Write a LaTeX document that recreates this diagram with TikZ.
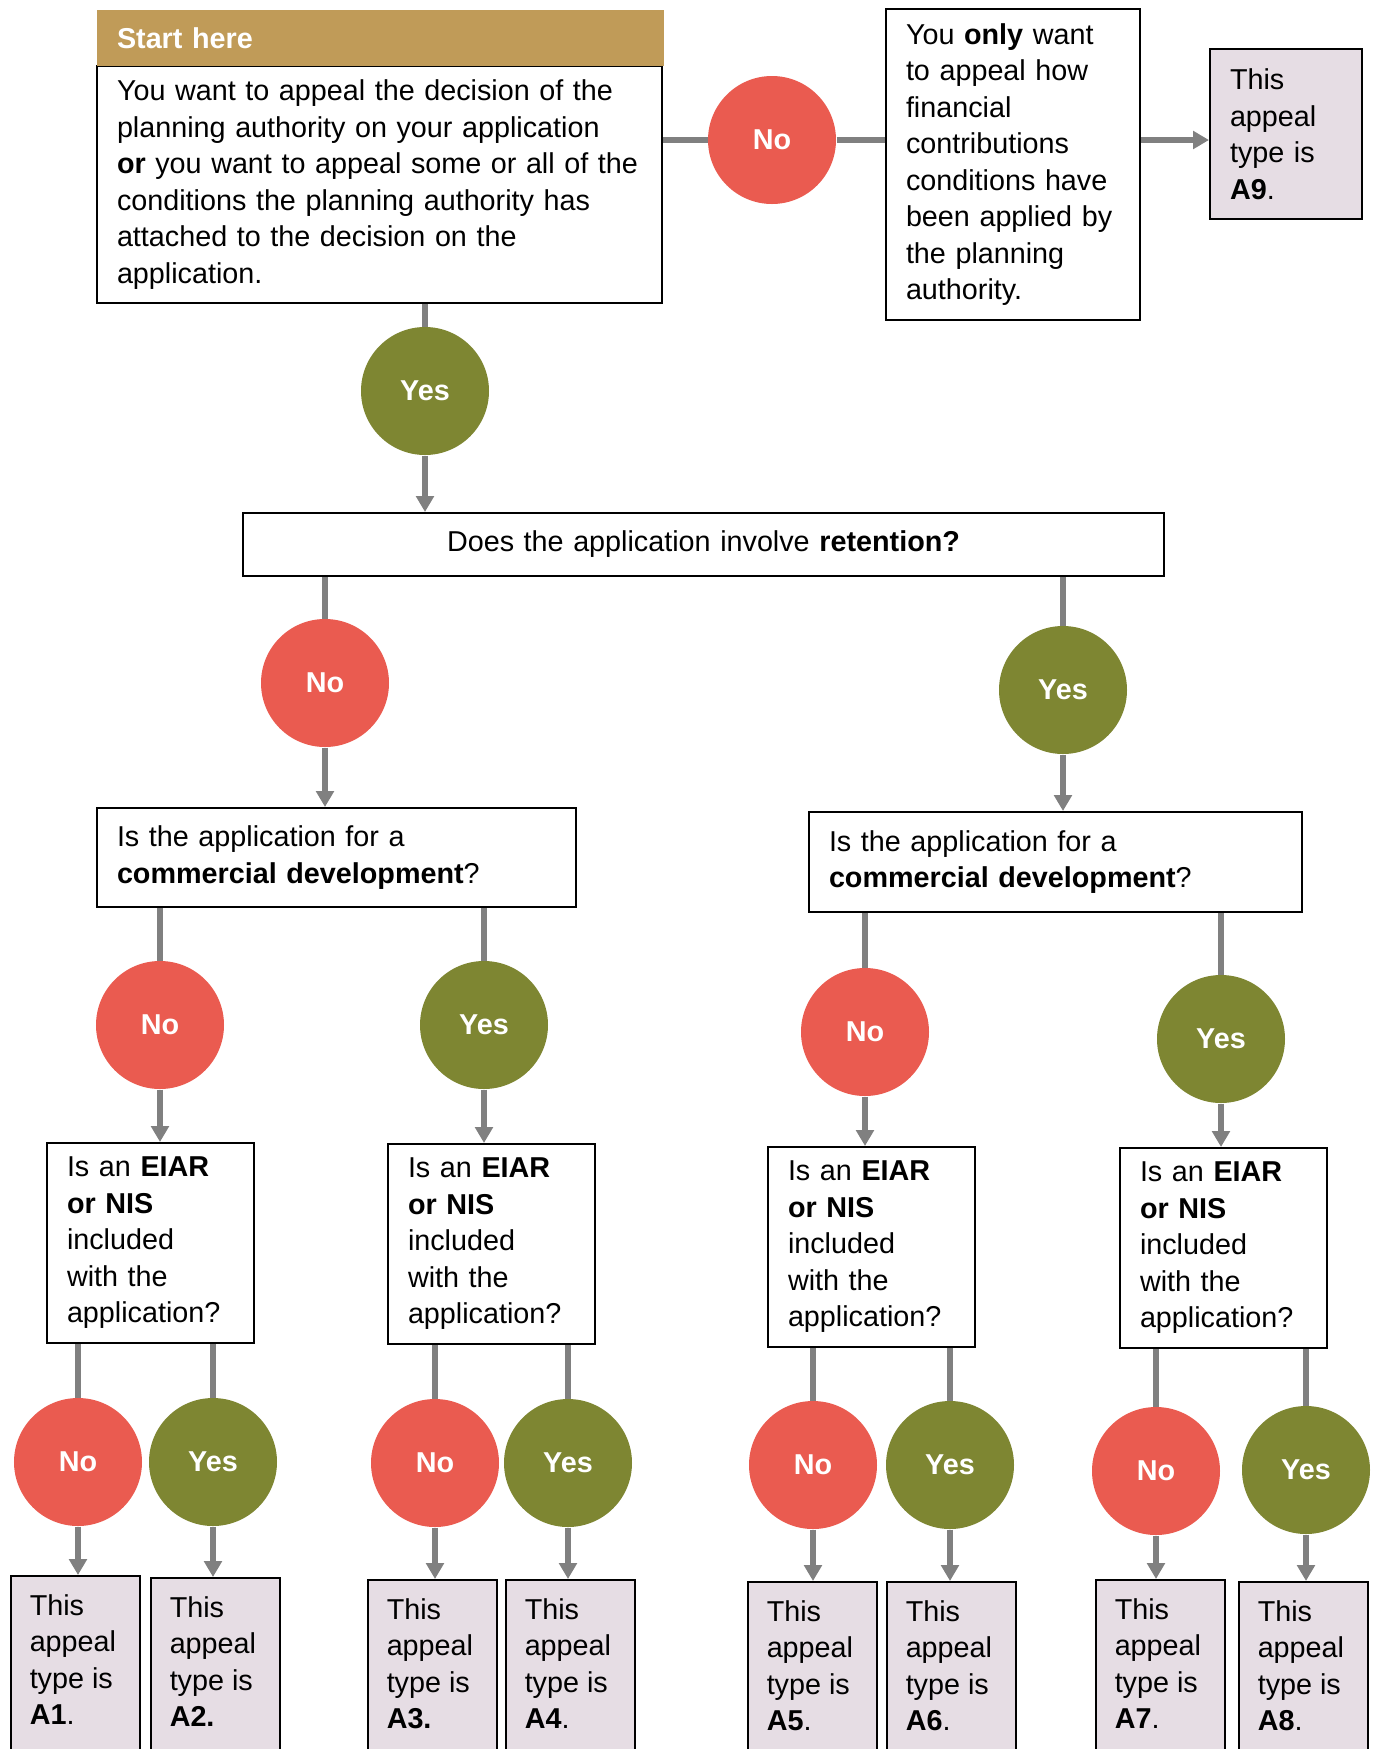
\documentclass[tikz,border=0pt]{standalone}
\usepackage{fontspec}
\setmainfont{Liberation Sans}
\usepackage{xcolor}
\usepackage{tikz}
\usetikzlibrary{arrows.meta}

\definecolor{headgold}{HTML}{C09B58}
\definecolor{nored}{HTML}{EA5B50}
\definecolor{yesgreen}{HTML}{7E8632}
\definecolor{typefill}{HTML}{E6DDE4}
\definecolor{linkgray}{HTML}{808080}

\begin{document}
\hyphenpenalty=10000
\exhyphenpenalty=10000
\begin{tikzpicture}[x=0.4pt, y=-0.4pt,
        font=\fontsize{11.5}{14.6}\selectfont,
        qbox/.style={draw=black, line width=0.8pt, fill=white, align=left, anchor=north west, inner xsep=8pt, inner ysep=0pt},
        typebox/.style={qbox, fill=typefill},
        nocirc/.style={circle, fill=nored, text=white, font=\fontsize{11.5}{14.6}\selectfont\bfseries, minimum size=51.2pt, inner sep=0pt},
        yescirc/.style={nocirc, fill=yesgreen},
        link/.style={draw=linkgray, line width=2.4pt},
        arr/.style={link, -{Triangle[width=7pt, length=6.4pt]}}]

        \useasboundingbox (0,0) rectangle (1377,1749);
        \clip (0,0) rectangle (1377,1749);

        % top boxes
        \node[qbox, text width=210pt, minimum height=94.8pt] (start) at (96,65) {\mbox{You want to appeal the decision of the}\\\mbox{planning authority on your application}\\\mbox{\textbf{or} you want to appeal some or all of the}\\\mbox{conditions the planning authority has}\\attached to the decision on the\\application.};
        \node[qbox, draw=none, fill=headgold, text=white, font=\fontsize{11.5}{14.6}\selectfont\bfseries, text width=210.8pt, minimum height=22.4pt] (hdr) at (96,9) {Start here};
        \node[qbox, text width=85.6pt, minimum height=124.4pt] (fin) at (885,8) {You \textbf{only} want\\to appeal how\\financial\\contributions\\\mbox{conditions have}\\\mbox{been applied by}\\the planning\\authority.};
        \node[typebox, text width=44.8pt, minimum height=68pt] (a9) at (1209,48) {This\\appeal\\type is\\\textbf{A9}.};

        % retention
        \node[qbox, align=center, text width=352.4pt, minimum height=25.2pt] (ret) at (242,512) {Does the application involve \textbf{retention?}};

        % commercial
        \node[qbox, text width=175.6pt, minimum height=39.6pt] (comA) at (96,807) {Is the application for a\\\textbf{commercial development}?};
        \node[qbox, text width=181.2pt, minimum height=40pt] (comB) at (808,811) {Is the application for a\\\textbf{commercial development}?};

        % eiar
        \node[qbox, text width=66.8pt, minimum height=80pt] (eiarA) at (46,1142) {Is an \textbf{EIAR}\\\textbf{or NIS}\\included\\with the\\application?};
        \node[qbox, text width=66.8pt, minimum height=80pt] (eiarB) at (387,1143) {Is an \textbf{EIAR}\\\textbf{or NIS}\\included\\with the\\application?};
        \node[qbox, text width=66.8pt, minimum height=80pt] (eiarC) at (767,1146) {Is an \textbf{EIAR}\\\textbf{or NIS}\\included\\with the\\application?};
        \node[qbox, text width=66.8pt, minimum height=80pt] (eiarD) at (1119,1147) {Is an \textbf{EIAR}\\\textbf{or NIS}\\included\\with the\\application?};

        % appeal types
        \node[typebox, inner xsep=7.5pt, inner ysep=7.4pt] (a1) at (10,1575) {\parbox[t][78pt][t]{36.6pt}{\raggedright This\\appeal\\type is\\\textbf{A1}.}};
        \node[typebox, inner xsep=7.5pt, inner ysep=7.4pt] (a2) at (150,1577) {\parbox[t][78pt][t]{36.6pt}{\raggedright This\\appeal\\type is\\\textbf{A2.}}};
        \node[typebox, inner xsep=7.5pt, inner ysep=7.4pt] (a3) at (367,1579) {\parbox[t][78pt][t]{36.6pt}{\raggedright This\\appeal\\type is\\\textbf{A3.}}};
        \node[typebox, inner xsep=7.5pt, inner ysep=7.4pt] (a4) at (505,1579) {\parbox[t][78pt][t]{36.6pt}{\raggedright This\\appeal\\type is\\\textbf{A4}.}};
        \node[typebox, inner xsep=7.5pt, inner ysep=7.4pt] (a5) at (747,1581) {\parbox[t][78pt][t]{36.6pt}{\raggedright This\\appeal\\type is\\\textbf{A5}.}};
        \node[typebox, inner xsep=7.5pt, inner ysep=7.4pt] (a6) at (886,1581) {\parbox[t][78pt][t]{36.6pt}{\raggedright This\\appeal\\type is\\\textbf{A6}.}};
        \node[typebox, inner xsep=7.5pt, inner ysep=7.4pt] (a7) at (1095,1579) {\parbox[t][78pt][t]{36.6pt}{\raggedright This\\appeal\\type is\\\textbf{A7}.}};
        \node[typebox, inner xsep=7.5pt, inner ysep=7.4pt] (a8) at (1238,1581) {\parbox[t][78pt][t]{36.6pt}{\raggedright This\\appeal\\type is\\\textbf{A8}.}};

        % answers
        \node[nocirc] (no0) at (772,140) {No};
        \node[yescirc] (yes0) at (425,391) {Yes};
        \node[nocirc] (noret) at (325,683) {No};
        \node[yescirc] (yesret) at (1063,690) {Yes};
        \node[nocirc] (nocomA) at (160,1025) {No};
        \node[yescirc] (yescomA) at (484,1025) {Yes};
        \node[nocirc] (nocomB) at (865,1032) {No};
        \node[yescirc] (yescomB) at (1221,1039) {Yes};
        \node[nocirc] (no1) at (78,1462) {No};
        \node[yescirc] (yes2) at (213,1462) {Yes};
        \node[nocirc] (no3) at (435,1463) {No};
        \node[yescirc] (yes4) at (568,1463) {Yes};
        \node[nocirc] (no5) at (813,1465) {No};
        \node[yescirc] (yes6) at (950,1465) {Yes};
        \node[nocirc] (no7) at (1156,1471) {No};
        \node[yescirc] (yes8) at (1306,1470) {Yes};

        % links top
        \draw[link] (start.east |- no0) -- (no0);
        \draw[link] (no0) -- (fin.west |- no0);
        \draw[arr] (fin.east |- no0) -- (a9.west |- no0);
        \draw[link] (yes0 |- start.south) -- (yes0);
        \draw[arr] (yes0) -- (yes0 |- ret.north);

        % links retention
        \draw[link] (noret |- ret.south) -- (noret);
        \draw[arr] (noret) -- (noret |- comA.north);
        \draw[link] (yesret |- ret.south) -- (yesret);
        \draw[arr] (yesret) -- (yesret |- comB.north);

        % links commercial
        \draw[link] (nocomA |- comA.south) -- (nocomA);
        \draw[arr] (nocomA) -- (nocomA |- eiarA.north);
        \draw[link] (yescomA |- comA.south) -- (yescomA);
        \draw[arr] (yescomA) -- (yescomA |- eiarB.north);
        \draw[link] (nocomB |- comB.south) -- (nocomB);
        \draw[arr] (nocomB) -- (nocomB |- eiarC.north);
        \draw[link] (yescomB |- comB.south) -- (yescomB);
        \draw[arr] (yescomB) -- (yescomB |- eiarD.north);

        % links eiar
        \draw[link] (no1 |- eiarA.south) -- (no1);
        \draw[arr] (no1) -- (no1 |- a1.north);
        \draw[link] (yes2 |- eiarA.south) -- (yes2);
        \draw[arr] (yes2) -- (yes2 |- a2.north);
        \draw[link] (no3 |- eiarB.south) -- (no3);
        \draw[arr] (no3) -- (no3 |- a3.north);
        \draw[link] (yes4 |- eiarB.south) -- (yes4);
        \draw[arr] (yes4) -- (yes4 |- a4.north);
        \draw[link] (no5 |- eiarC.south) -- (no5);
        \draw[arr] (no5) -- (no5 |- a5.north);
        \draw[link] (yes6 |- eiarC.south) -- (yes6);
        \draw[arr] (yes6) -- (yes6 |- a6.north);
        \draw[link] (no7 |- eiarD.south) -- (no7);
        \draw[arr] (no7) -- (no7 |- a7.north);
        \draw[link] (yes8 |- eiarD.south) -- (yes8);
        \draw[arr] (yes8) -- (yes8 |- a8.north);
\end{tikzpicture}
\end{document}
